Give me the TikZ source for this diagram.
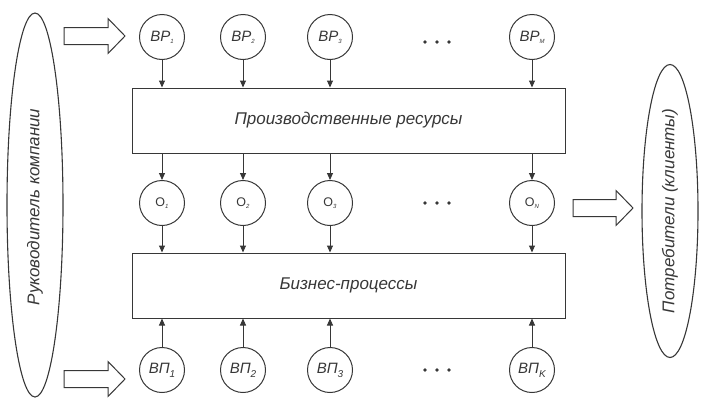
\documentclass[tikz,border=0pt]{standalone}
\usepackage{fontspec}
\setmainfont{Liberation Sans}
\usetikzlibrary{shapes.geometric,arrows.meta}
\definecolor{ln}{RGB}{55,55,55}
\newcommand\myblockarrow[4]{% name, tail x, tip x, y
  \coordinate (#1-tail) at (#2,#4);
  \coordinate (#1-tip) at (#3,#4);
  \draw[ln,line width=1pt,line join=miter] ([yshift=-8.5pt]#1-tail) -- ([xshift=-17pt,yshift=-8.5pt]#1-tip) -- ([xshift=-17pt,yshift=-17.5pt]#1-tip) -- (#1-tip) -- ([xshift=-17pt,yshift=17.5pt]#1-tip) -- ([xshift=-17pt,yshift=8.5pt]#1-tip) -- ([yshift=8.5pt]#1-tail) -- cycle;
}
\newcommand\mydots[3]{% name, x, y
  \coordinate (#1) at (#2,#3);
  \fill[ln] ([xshift=-12pt]#1) circle (1.8pt) (#1) circle (1.8pt) ([xshift=12pt]#1) circle (1.8pt);
}
\begin{document}
\begin{tikzpicture}[x=1pt,y=-1pt,
  every node/.style={text=ln},
  circ/.style={circle,draw=ln,line width=1pt,minimum size=45pt,inner sep=0pt,font=\itshape\fontsize{15}{17}\selectfont},
  ocirc/.style={circ,font=\fontsize{12.5}{15}\selectfont},
  rbox/.style={draw=ln,line width=1pt,minimum width=433pt,minimum height=65pt,font=\itshape\fontsize{17}{20}\selectfont},
  elltext/.style={rotate=90,font=\itshape\fontsize{17}{20}\selectfont,text=ln},
  conn/.style={draw=ln,line width=1pt,-{Triangle[length=7pt,width=6pt]}},
  tsub/.style={}
]
\useasboundingbox (0,0) rectangle (711,410);
% ellipses
\node[ellipse,draw=ln,line width=1.1pt,minimum width=56pt,minimum height=384pt,inner sep=0pt] (mgr) at (35,205) {};
\node[elltext] (mgrt) at (35,207) {Руководитель компании};
\node[ellipse,draw=ln,line width=1.1pt,minimum width=56pt,minimum height=293pt,inner sep=0pt] (cli) at (670,211) {};
\node[elltext] (clit) at (670,211) {Потребители (клиенты)};
% boxes
\node[rbox] (res) at (348.5,120.5) {Производственные ресурсы};
\node[rbox] (bp) at (348.5,285.5) {Бизнес-процессы};
% top circles
\node[circ] (r1) at (162,37) {ВР\raisebox{-2pt}{\fontsize{6}{6}\selectfont 1}};
\node[circ] (r2) at (243,37) {ВР\raisebox{-2pt}{\fontsize{6}{6}\selectfont 2}};
\node[circ] (r3) at (330,37) {ВР\raisebox{-2pt}{\fontsize{6}{6}\selectfont 3}};
\node[circ] (rm) at (532,37) {ВР\raisebox{-2pt}{\fontsize{6}{6}\selectfont М}};
\mydots{d1}{437}{42}
% middle circles
\node[ocirc] (o1) at (162,203) {O\raisebox{-2pt}{\fontsize{6}{6}\selectfont\itshape 1}};
\node[ocirc] (o2) at (243,203) {O\raisebox{-2pt}{\fontsize{6}{6}\selectfont\itshape 2}};
\node[ocirc] (o3) at (330,203) {O\raisebox{-2pt}{\fontsize{6}{6}\selectfont\itshape 3}};
\node[ocirc] (on) at (532,203) {O\raisebox{-2pt}{\fontsize{6}{6}\selectfont\itshape N}};
\mydots{d2}{437}{203}
% bottom circles
\node[circ] (p1) at (162,370) {ВП\raisebox{-4pt}{\fontsize{10}{10}\selectfont 1}};
\node[circ] (p2) at (243,370) {ВП\raisebox{-4pt}{\fontsize{10}{10}\selectfont 2}};
\node[circ] (p3) at (330,370) {ВП\raisebox{-4pt}{\fontsize{10}{10}\selectfont 3}};
\node[circ] (pk) at (532,370) {ВП\raisebox{-4pt}{\fontsize{10}{10}\selectfont K}};
\mydots{d3}{437}{370}
% block arrows
\myblockarrow{a1}{64}{125}{36}
\myblockarrow{a2}{64}{125}{379}
\myblockarrow{a3}{573}{633}{208}
% connectors
\foreach \c in {r1,r2,r3,rm} \draw[conn] (\c.south) -- (\c.south |- res.north);
\foreach \c in {o1,o2,o3,on} {
  \draw[conn] (\c.north |- res.south) -- (\c.north);
  \draw[conn] (\c.south) -- (\c.south |- bp.north);
}
\foreach \c in {p1,p2,p3,pk} \draw[conn] (\c.north) -- (\c.north |- bp.south);
\end{tikzpicture}
\end{document}
